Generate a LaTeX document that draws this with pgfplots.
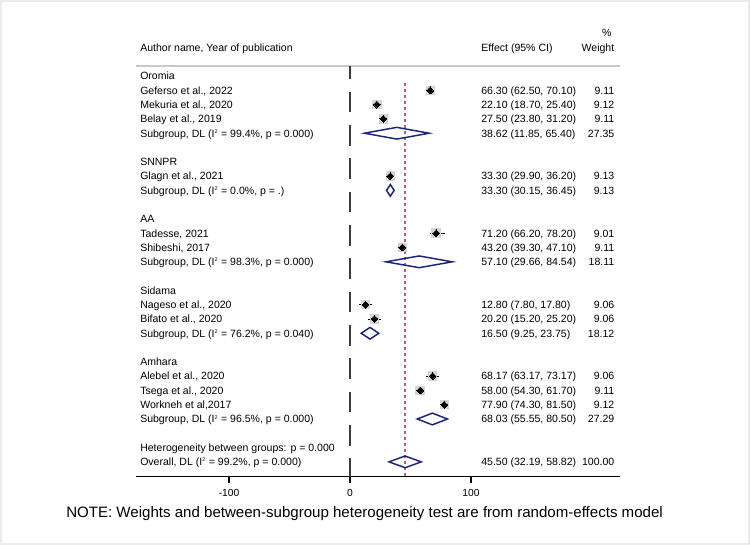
\documentclass[border=0pt]{standalone}
\usepackage{fontspec}
\setmainfont{Liberation Sans}
\usepackage{pgfplots}
\pgfplotsset{compat=1.18}

\definecolor{dnavy}{RGB}{28,36,120}
\definecolor{refred}{RGB}{185,95,108}
\definecolor{zerogray}{RGB}{60,60,60}
\definecolor{headgray}{RGB}{200,200,200}
\definecolor{boxgray}{RGB}{212,212,212}
\definecolor{framegray}{RGB}{236,236,236}

\newcommand{\rf}{\fontsize{7.9}{9.5}\selectfont}
\tikzset{rowtxt/.style={font=\rf, inner sep=0pt, yshift=-2.85pt}}
% rows are plotted at y = -row
\newcommand{\lab}[2]{\node[rowtxt, anchor=base west] at (axis cs:-173.6,#1) {#2};}
\newcommand{\eff}[3]{\node[rowtxt, anchor=base west] at (axis cs:108.3,#1) {#2};
  \node[rowtxt, anchor=base east] at (axis cs:218.6,#1) {#3};}
\newcommand{\sq}[1]{I\textsuperscript{\fontsize{4}{4}\selectfont 2}}

\begin{document}
\begin{tikzpicture}
\path[use as bounding box] (0,0) rectangle (562.5pt,408.75pt);
\begin{axis}[
    at={(102pt,51.2pt)}, anchor=south west,
    scale only axis, width=363pt, height=308pt,
    xmin=-176.9, xmax=223.1, ymin=-28.04, ymax=0.7,
    axis x line*=bottom, axis y line=none,
    axis line style={black, line width=0.9pt},
    xtick={-100,0,100}, xticklabels={-100,0,100},
    tick align=outside, major tick length=4.5pt,
    every tick/.style={black, line width=0.9pt},
    xticklabel style={font=\fontsize{7.7}{9}\selectfont, yshift=-1.5pt},
    clip=false, unbounded coords=jump,
  ]
  % header rule
  \addplot[headgray, line width=1.1pt] coordinates {(-176.9,0.7) (223.1,0.7)};
  % line of no effect
  \addplot[zerogray, line width=1.1pt, dash pattern=on 15.5pt off 9.5pt, dash phase=5.8pt]
    coordinates {(0,0.7) (0,-28.04)};
  % overall estimate
  \addplot[refred, line width=1pt, dash pattern=on 2.25pt off 2.25pt]
    coordinates {(45.5,-0.5) (45.5,-28.04)};
  % confidence intervals of the studies
  \addplot[black, line width=0.6pt] coordinates {
    (62.50,-1) (70.10,-1) (nan,nan)
    (18.70,-2) (25.40,-2) (nan,nan)
    (23.80,-3) (31.20,-3) (nan,nan)
    (29.90,-7) (36.20,-7) (nan,nan)
    (66.20,-11) (78.20,-11) (nan,nan)
    (39.30,-12) (47.10,-12) (nan,nan)
    (7.80,-16) (17.80,-16) (nan,nan)
    (15.20,-17) (25.20,-17) (nan,nan)
    (63.17,-21) (73.17,-21) (nan,nan)
    (54.30,-22) (61.70,-22) (nan,nan)
    (74.30,-23) (81.50,-23)};
  % weight boxes
  \addplot[only marks, draw=none, fill=boxgray, mark=square*, mark size=3.2pt,
      mark options={fill=boxgray, draw=boxgray, line width=0pt}]
    coordinates {(66.30,-1) (22.10,-2) (27.50,-3) (33.30,-7) (71.20,-11) (43.20,-12)
      (12.80,-16) (20.20,-17) (68.17,-21) (58.00,-22) (77.90,-23)};
  % point estimates
  \addplot[only marks, mark=square*, mark size=1.8pt, mark options={fill=black, draw=black, line width=0pt, rotate=45}]
    coordinates {(66.30,-1) (22.10,-2) (27.50,-3) (33.30,-7) (71.20,-11) (43.20,-12)
      (12.80,-16) (20.20,-17) (68.17,-21) (58.00,-22) (77.90,-23)};
  % pooled diamonds
  \addplot[dnavy, line width=1.1pt, line join=miter] coordinates {
    (11.85,-4) (38.62,-3.59) (65.40,-4) (38.62,-4.41) (11.85,-4) (38.62,-3.59) (nan,nan)
    (30.15,-8) (33.30,-7.59) (36.45,-8) (33.30,-8.41) (30.15,-8) (33.30,-7.59) (nan,nan)
    (29.66,-13) (57.10,-12.59) (84.54,-13) (57.10,-13.41) (29.66,-13) (57.10,-12.59) (nan,nan)
    (9.25,-18) (16.50,-17.59) (23.75,-18) (16.50,-18.41) (9.25,-18) (16.50,-17.59) (nan,nan)
    (55.55,-24) (68.03,-23.59) (80.50,-24) (68.03,-24.41) (55.55,-24) (68.03,-23.59) (nan,nan)
    (32.19,-27) (45.50,-26.59) (58.82,-27) (45.50,-27.41) (32.19,-27) (45.50,-26.59)};

  % header
  \lab{2}{Author name, Year of publication}
  \node[rowtxt, anchor=base west] at (axis cs:108.3,2) {Effect (95\% CI)};
  \node[rowtxt, anchor=base east] at (axis cs:218.6,2) {Weight};
  \node[rowtxt, anchor=base east] at (axis cs:216.2,3) {\%};

  \lab{0}{Oromia}
  \lab{-1}{Geferso et al., 2022}\eff{-1}{66.30 (62.50, 70.10)}{9.11}
  \lab{-2}{Mekuria et al., 2020}\eff{-2}{22.10 (18.70, 25.40)}{9.12}
  \lab{-3}{Belay et al., 2019}\eff{-3}{27.50 (23.80, 31.20)}{9.11}
  \lab{-4}{Subgroup, DL (\sq{} = 99.4\%, p = 0.000)}\eff{-4}{38.62 (11.85, 65.40)}{27.35}

  \lab{-6}{SNNPR}
  \lab{-7}{Glagn et al., 2021}\eff{-7}{33.30 (29.90, 36.20)}{9.13}
  \lab{-8}{Subgroup, DL (\sq{} = 0.0\%, p = .)}\eff{-8}{33.30 (30.15, 36.45)}{9.13}

  \lab{-10}{AA}
  \lab{-11}{Tadesse, 2021}\eff{-11}{71.20 (66.20, 78.20)}{9.01}
  \lab{-12}{Shibeshi, 2017}\eff{-12}{43.20 (39.30, 47.10)}{9.11}
  \lab{-13}{Subgroup, DL (\sq{} = 98.3\%, p = 0.000)}\eff{-13}{57.10 (29.66, 84.54)}{18.11}

  \lab{-15}{Sidama}
  \lab{-16}{Nageso et al., 2020}\eff{-16}{12.80 (7.80, 17.80)}{9.06}
  \lab{-17}{Bifato et al., 2020}\eff{-17}{20.20 (15.20, 25.20)}{9.06}
  \lab{-18}{Subgroup, DL (\sq{} = 76.2\%, p = 0.040)}\eff{-18}{16.50 (9.25, 23.75)}{18.12}

  \lab{-20}{Amhara}
  \lab{-21}{Alebel et al., 2020}\eff{-21}{68.17 (63.17, 73.17)}{9.06}
  \lab{-22}{Tsega et al., 2020}\eff{-22}{58.00 (54.30, 61.70)}{9.11}
  \lab{-23}{Workneh et al,2017}\eff{-23}{77.90 (74.30, 81.50)}{9.12}
  \lab{-24}{Subgroup, DL (\sq{} = 96.5\%, p = 0.000)}\eff{-24}{68.03 (55.55, 80.50)}{27.29}

  \lab{-26}{Heterogeneity between groups: p = 0.000}
  \lab{-27}{Overall, DL (\sq{} = 99.2\%, p = 0.000)}\eff{-27}{45.50 (32.19, 58.82)}{100.00}
\end{axis}
\node[anchor=west, inner sep=0pt, font=\fontsize{11.3}{13}\selectfont] at (49.5pt,23.25pt)
  {NOTE: Weights and between-subgroup heterogeneity test are from random-effects model};
\draw[framegray, line width=1.5pt] (0.75pt,0.75pt) rectangle (561.75pt,408pt);
\end{tikzpicture}
\end{document}
